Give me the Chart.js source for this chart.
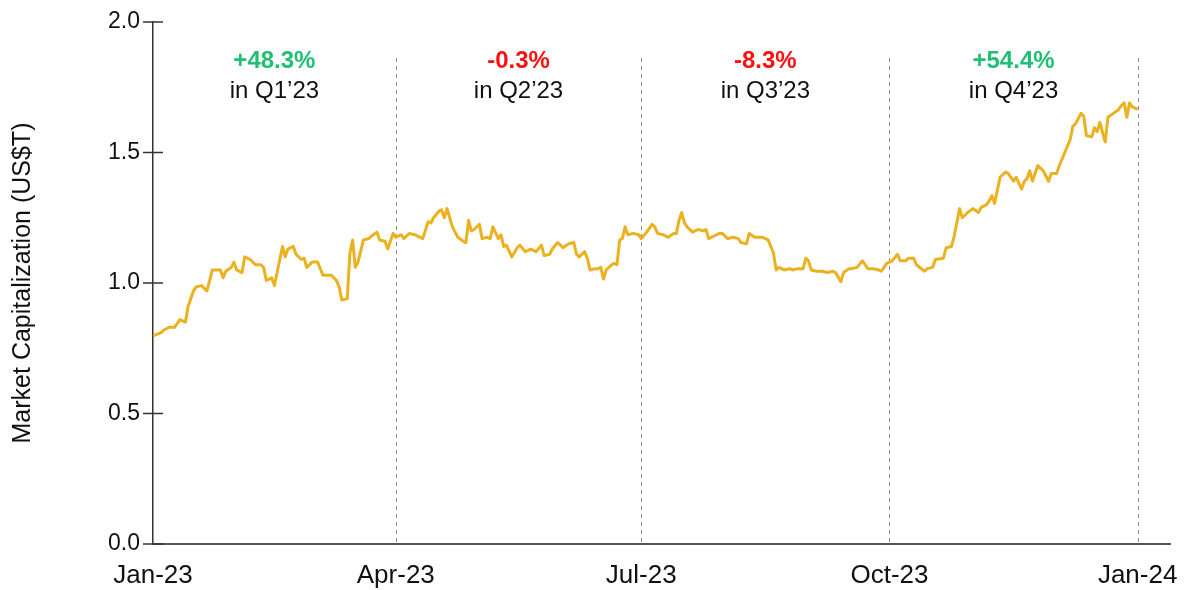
<!DOCTYPE html>
<html lang="en">
<head>
    <meta charset="UTF-8">
    <title>Market Capitalization 2023</title>
    <script src="https://cdn.jsdelivr.net/npm/chart.js"></script>
    <style>
        html, body { margin: 0; padding: 0; background: #fff; }
        #wrap { width: 1187px; height: 590px; }
    </style>
</head>
<body>
    <div id="wrap"><canvas id="capChart"></canvas></div>

<script>
// Day of year (0 = Jan 1 2023) for each point
const days = [
    0, 3, 4, 6, 8, 10, 12, 13, 15, 16, 18, 20, 22, 24, 25, 26, 27, 29, 30, 31,
    33, 34, 36, 38, 40, 41, 42, 44, 45, 46, 48, 49, 50, 52, 53, 55, 56, 57, 59, 61,
    63, 65, 66, 68, 69, 70, 72, 73, 74, 75, 76, 78, 80, 81, 83, 84, 86, 87, 89, 90,
    92, 93, 95, 97, 100, 102, 103, 104, 106, 107, 108, 109, 111, 113, 115, 116, 117, 118, 119, 121,
    122, 124, 125, 126, 128, 129, 130, 131, 133, 135, 136, 138, 140, 142, 144, 145, 147, 148, 150, 152,
    154, 156, 157, 158, 160, 161, 162, 164, 165, 166, 167, 168, 170, 171, 172, 173, 174, 175, 176, 178,
    180, 181, 183, 185, 186, 187, 189, 191, 193, 194, 195, 196, 197, 198, 200, 202, 204, 205, 206, 208,
    210, 211, 213, 215, 217, 218, 220, 221, 223, 224, 226, 228, 230, 231, 232, 234, 236, 237, 239, 241,
    242, 243, 244, 246, 248, 250, 252, 253, 255, 256, 258, 259, 261, 263, 264, 265, 267, 269, 270, 272,
    274, 276, 277, 279, 280, 282, 283, 286, 287, 289, 290, 293, 294, 296, 297, 299, 300, 302, 304, 306,
    307, 309, 310, 311, 312, 314, 316, 317, 319, 320, 322, 323, 324, 325, 326, 328, 330, 332, 333, 335,
    336, 338, 340, 341, 342, 344, 345, 346, 348, 349, 350, 351, 353, 354, 356, 358, 359, 360, 361, 362,
    363, 365
];

// Market capitalization, US$ trillion
const marketCap = [
    0.797, 0.81, 0.82, 0.83, 0.83, 0.86, 0.85, 0.91, 0.97, 0.985, 0.99, 0.97, 1.05, 1.05, 1.05, 1.02, 1.045, 1.06, 1.08, 1.05,
    1.04, 1.10, 1.09, 1.07, 1.07, 1.06, 1.01, 1.02, 0.99, 1.04, 1.14, 1.10, 1.13, 1.14, 1.11, 1.09, 1.095, 1.06, 1.08, 1.08,
    1.03, 1.03, 1.03, 1.01, 0.985, 0.935, 0.94, 1.115, 1.165, 1.06, 1.08, 1.165, 1.17, 1.18, 1.195, 1.165, 1.16, 1.13, 1.19, 1.175,
    1.185, 1.17, 1.19, 1.185, 1.17, 1.235, 1.23, 1.25, 1.275, 1.28, 1.25, 1.285, 1.215, 1.175, 1.16, 1.155, 1.24, 1.20, 1.205, 1.225,
    1.17, 1.175, 1.17, 1.215, 1.17, 1.185, 1.14, 1.145, 1.10, 1.135, 1.145, 1.12, 1.13, 1.12, 1.145, 1.105, 1.11, 1.13, 1.155, 1.135,
    1.15, 1.155, 1.11, 1.10, 1.12, 1.095, 1.05, 1.055, 1.055, 1.06, 1.015, 1.05, 1.07, 1.075, 1.07, 1.165, 1.17, 1.215, 1.185, 1.19,
    1.185, 1.17, 1.195, 1.225, 1.215, 1.19, 1.185, 1.175, 1.19, 1.19, 1.24, 1.27, 1.23, 1.215, 1.195, 1.205, 1.20, 1.205, 1.17, 1.18,
    1.19, 1.19, 1.17, 1.175, 1.17, 1.155, 1.15, 1.19, 1.175, 1.175, 1.175, 1.165, 1.115, 1.05, 1.06, 1.05, 1.055, 1.05, 1.055, 1.055,
    1.095, 1.085, 1.05, 1.045, 1.045, 1.04, 1.045, 1.04, 1.005, 1.04, 1.055, 1.055, 1.06, 1.085, 1.07, 1.055, 1.055, 1.05, 1.045, 1.075,
    1.085, 1.11, 1.085, 1.085, 1.095, 1.095, 1.07, 1.045, 1.055, 1.06, 1.09, 1.095, 1.135, 1.14, 1.18, 1.285, 1.25, 1.27, 1.285, 1.27,
    1.29, 1.30, 1.315, 1.335, 1.305, 1.405, 1.425, 1.42, 1.39, 1.405, 1.36, 1.39, 1.40, 1.43, 1.39, 1.45, 1.43, 1.39, 1.42, 1.42,
    1.45, 1.50, 1.55, 1.60, 1.61, 1.65, 1.64, 1.565, 1.56, 1.595, 1.58, 1.615, 1.54, 1.635, 1.65, 1.665, 1.68, 1.69, 1.635, 1.69,
    1.675, 1.665
];

// x axis ticks (quarter starts)
const tickDays = [0, 90, 181, 273, 365];
const tickLabels = ['Jan-23', 'Apr-23', 'Jul-23', 'Oct-23', 'Jan-24'];
const yTicks = [0, 0.5, 1.0, 1.5, 2.0];

// quarterly change annotations
const quarterChanges = ['+48.3%', '-0.3%', '-8.3%', '+54.4%'];
const quarterNames = ['in Q1\u201923', 'in Q2\u201923', 'in Q3\u201923', 'in Q4\u201923'];

const FONT = '"Liberation Sans", Arial, sans-serif';
const GREEN = '#21bf73';
const RED = '#ff1010';

const points = days.map((d, i) => ({ x: d, y: marketCap[i] }));

// dashed quarter dividers, cross ticks on y axis, quarter labels
const quarterPlugin = {
    id: 'quarterPlugin',
    beforeDatasetsDraw(chart) {
        const { ctx, scales: { x, y } } = chart;
        ctx.save();
        ctx.strokeStyle = '#8a8a8a';
        ctx.lineWidth = 1;
        ctx.setLineDash([4, 4]);
        tickDays.slice(1).forEach(d => {
            const px = Math.round(x.getPixelForValue(d)) + 0.5;
            ctx.beginPath();
            ctx.moveTo(px, 58);
            ctx.lineTo(px, y.getPixelForValue(0));
            ctx.stroke();
        });
        ctx.restore();
    },
    afterDraw(chart) {
        const { ctx, scales: { x, y } } = chart;
        ctx.save();
        // y axis tick marks crossing the axis
        ctx.strokeStyle = '#333';
        ctx.lineWidth = 1.5;
        const ax = x.getPixelForValue(0);
        yTicks.forEach(v => {
            const py = y.getPixelForValue(v);
            ctx.beginPath();
            ctx.moveTo(ax - 10, py);
            ctx.lineTo(ax + 10, py);
            ctx.stroke();
        });
        // quarter labels
        ctx.textAlign = 'center';
        ctx.textBaseline = 'middle';
        quarterChanges.forEach((txt, i) => {
            const cx = (x.getPixelForValue(tickDays[i]) + x.getPixelForValue(tickDays[i + 1])) / 2;
            ctx.font = 'bold 24px ' + FONT;
            ctx.fillStyle = txt.startsWith('+') ? GREEN : RED;
            ctx.fillText(txt, cx, 61);
            ctx.font = '24px ' + FONT;
            ctx.fillStyle = '#111';
            ctx.fillText(quarterNames[i], cx, 91);
        });
        ctx.restore();
    }
};

const ctx = document.getElementById('capChart').getContext('2d');
new Chart(ctx, {
    type: 'line',
    data: {
        datasets: [{
            data: points,
            borderColor: '#ecb11f',
            borderWidth: 3,
            pointRadius: 0,
            tension: 0,
            borderJoinStyle: 'round'
        }]
    },
    options: {
        responsive: true,
        maintainAspectRatio: false,
        animation: false,
        layout: { padding: { top: 22, right: 17, left: 0, bottom: 0 } },
        plugins: {
            legend: { display: false },
            tooltip: { enabled: false }
        },
        scales: {
            x: {
                type: 'linear',
                min: 0,
                max: 377,
                afterBuildTicks: s => { s.ticks = tickDays.map(v => ({ value: v })); },
                afterFit: s => { s.height = 46; s.paddingLeft = 0; s.paddingRight = 0; },
                grid: { display: false, drawTicks: false },
                border: { display: true, color: '#555', width: 2 },
                ticks: {
                    padding: 16,
                    maxRotation: 0,
                    autoSkip: false,
                    color: '#111',
                    font: { family: FONT, size: 26 },
                    callback: v => tickLabels[tickDays.indexOf(v)]
                }
            },
            y: {
                min: 0,
                max: 2.0,
                afterBuildTicks: s => { s.ticks = yTicks.map(v => ({ value: v })); },
                afterFit: s => { s.width = 153; s.paddingTop = 0; s.paddingBottom = 0; },
                grid: { display: false, drawTicks: false },
                border: { display: true, color: '#333', width: 1.5 },
                ticks: {
                    padding: 13,
                    color: '#111',
                    font: { family: FONT, size: 23 },
                    callback: v => v.toFixed(1)
                },
                title: {
                    display: true,
                    text: 'Market Capitalization (US$T)',
                    color: '#111',
                    font: { family: FONT, size: 25 },
                    padding: { top: 8, bottom: 4 }
                }
            }
        }
    },
    plugins: [quarterPlugin]
});
</script>
</body>
</html>
